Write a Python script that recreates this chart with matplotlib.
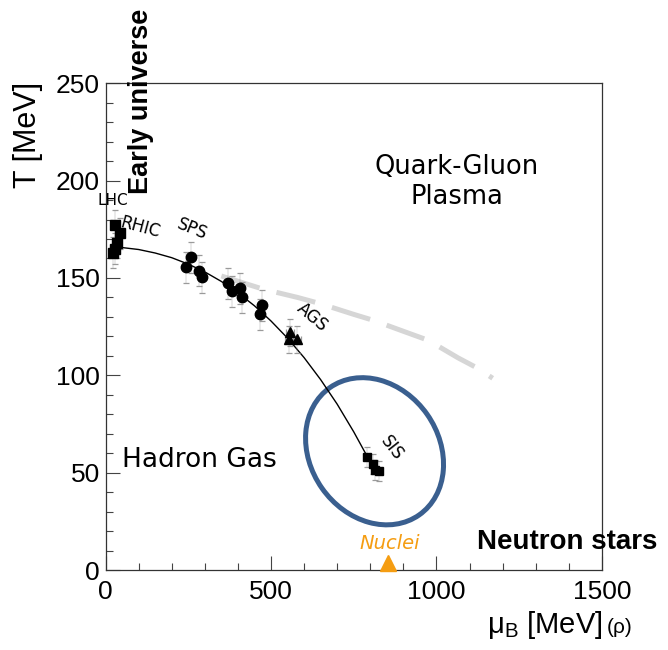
import numpy as np
import matplotlib
matplotlib.use("Agg")
import matplotlib.pyplot as plt
from matplotlib.patches import Ellipse
from matplotlib.transforms import ScaledTranslation

# freeze-out points (mu_B, T) in MeV
lhc_rhic_mu = [28, 43, 34, 28, 22]
lhc_rhic_T = [177, 173, 168, 165, 163]
sps_ags_mu = [258, 243, 282, 291, 370, 382, 406, 412, 473, 467]
sps_ags_T = [160.5, 155.4, 153.8, 150.3, 147.2, 143.1, 144.6, 140.0, 135.9, 131.3]
ags_tri_mu = [557, 554, 578]
ags_tri_T = [122, 118.5, 118.5]
sis_mu = [790, 808, 814, 826]
sis_T = [58, 54.4, 51.3, 50.8]

# freeze-out curve
curve_mu = [40, 100, 150, 200, 250, 300, 350, 400, 450, 500, 550, 600, 650, 700, 750, 790]
curve_T = [165.8, 164.6, 162.8, 160.4, 157.1, 153.1, 148.2, 142.4, 135.7, 127.9,
           119.1, 109.1, 97.8, 85.2, 71.0, 58.6]

# grey dashed phase boundary
bound_mu = [350, 475, 580, 645, 750, 810, 910, 975, 1065, 1125, 1170]
bound_T = [151, 144.3, 140, 137, 131.3, 128.2, 122, 118, 109, 103.6, 98.5]

fig = plt.figure(figsize=(6.68, 6.5), dpi=100)
ax = fig.add_axes([0.158, 0.123, 0.743, 0.749])
ax.set_xlim(0, 1500)
ax.set_ylim(0, 250)

ax.plot(bound_mu, bound_T, color="#d6d6d6", lw=3.6, dashes=(8, 3.5), solid_capstyle="butt")
ax.plot(curve_mu, curve_T, color="black", lw=1.0)

eb = dict(ls="none", ecolor="#9a9a9a", elinewidth=0.3, capsize=2.5, capthick=0.9,
          color="black", mec="black")
ax.errorbar(lhc_rhic_mu, lhc_rhic_T, yerr=8, xerr=6, marker="s", ms=6.5, **eb)
ax.errorbar(sps_ags_mu, sps_ags_T, yerr=8, xerr=12, marker="o", ms=7.5, **eb)
ax.errorbar(ags_tri_mu, ags_tri_T, yerr=7, xerr=12, marker="^", ms=7.5, **eb)
ax.errorbar(sis_mu, sis_T, yerr=5, xerr=8, marker="s", ms=6, **eb)

# ellipse around SIS region
ell = Ellipse((0, 0), width=1.555, height=1.285, angle=125, fill=False,
              ec="#3a5f8f", lw=3.6,
              transform=fig.dpi_scale_trans + ScaledTranslation(813, 61, ax.transData))
ax.add_patch(ell)

# nuclei marker
ax.plot([855], [3.6], marker="^", ms=12, color="#f59d12", clip_on=False, zorder=5)

lab = dict(family="DejaVu Sans", ha="center", va="center")
ax.text(22, 190, "LHC", fontsize=11, **lab)
ax.text(104, 176, "RHIC", fontsize=12, rotation=-15, **lab)
ax.text(261, 175, "SPS", fontsize=12, rotation=-22, **lab)
ax.text(624, 130, "AGS", fontsize=12, rotation=-40, **lab)
ax.text(866, 62.5, "SIS", fontsize=12, rotation=-52, **lab)
ax.text(1062, 199.5, "Quark-Gluon\nPlasma", fontsize=18.5, linespacing=1.2,
        multialignment="center", **lab)
ax.text(49, 52.8, "Hadron Gas", fontsize=19, family="DejaVu Sans", ha="left", va="baseline")
ax.text(860, 13.8, "Nuclei", fontsize=14, style="italic", color="#f59d12", **lab)
ax.text(107, 193, "Early universe", fontsize=19.5, fontweight="bold", family="Liberation Sans",
        rotation=90, ha="center", va="bottom", clip_on=False)
ax.text(1124, 14.4, "Neutron stars", fontsize=20, fontweight="bold", family="Liberation Sans",
        ha="left", va="center", clip_on=False)

# axes styling (ROOT look)
ax.set_xticks([0, 500, 1000, 1500])
ax.set_xticks(np.arange(0, 1501, 100), minor=True)
ax.set_yticks(np.arange(0, 251, 50))
ax.set_yticks(np.arange(0, 251, 10), minor=True)
ax.tick_params(which="both", direction="in", color="#444444", width=0.8,
               labelsize=19, top=False, right=False)
ax.tick_params(which="major", length=10)
ax.tick_params(which="minor", length=5)
ax.tick_params(axis="y", pad=4)
ax.tick_params(axis="x", pad=7)
for lbl in ax.get_xticklabels() + ax.get_yticklabels():
    lbl.set_family("Liberation Sans")
for sp in ax.spines.values():
    sp.set_color("#333333")
    sp.set_linewidth(0.9)

fig.text(28 / 668, 1 - 82 / 650, "T [MeV]", rotation=90, ha="center", va="top",
         fontsize=22, family="Liberation Sans")
fig.text(603 / 668, 1 - 633 / 650, r"μ$_{\mathregular{B}}$ [MeV]", ha="right", va="baseline",
         fontsize=21, family="Liberation Sans")
fig.text(607 / 668, 1 - 633 / 650, "(ρ)", ha="left", va="baseline",
         fontsize=15, family="Liberation Sans")

fig.savefig("out.png", dpi=100)
